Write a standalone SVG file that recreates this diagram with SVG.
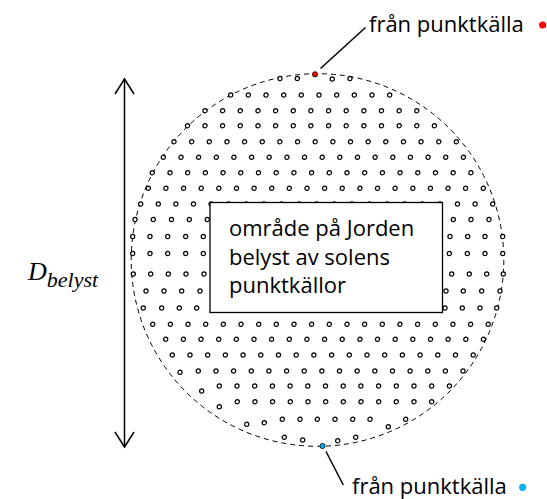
<svg xmlns="http://www.w3.org/2000/svg" width="547" height="499" viewBox="0 0 547 499">
<style>
.d{fill:#fff;stroke:#000;stroke-width:1.2}
.t{font-family:"Open Sans","Noto Sans",sans-serif;font-size:22px;fill:#000}
.ln{stroke:#000;stroke-width:1.5;fill:none}
</style>
<defs>
<marker id="ah" markerUnits="userSpaceOnUse" markerWidth="20" markerHeight="20" refX="0" refY="0" orient="auto-start-reverse" overflow="visible">
<path d="M-15,-9.5 L0,0 L-15,9.5" fill="none" stroke="#000" stroke-width="1.5"/>
</marker>
</defs>
<rect width="547" height="499" fill="#fff"/>
<g id="boundary">
<circle cx="317.5" cy="260" r="186.3" fill="none" stroke="#000" stroke-width="1" stroke-dasharray="5 4"/>
</g>
<g id="points">
<g transform="translate(0,78.5)"><circle class="d" cx="280" cy="0" r="2.1"/><circle class="d" cx="297.3" cy="0" r="2.1"/><circle class="d" cx="332.3" cy="0.5" r="2.1"/><circle class="d" cx="350" cy="0" r="2.1"/></g>
<g transform="translate(0,95)"><circle class="d" cx="230.7" cy="0" r="2.1"/><circle class="d" cx="248.3" cy="0" r="2.1"/><circle class="d" cx="266" cy="0" r="2.1"/><circle class="d" cx="283.7" cy="0" r="2.1"/><circle class="d" cx="301.3" cy="0" r="2.1"/><circle class="d" cx="319" cy="0" r="2.1"/><circle class="d" cx="336.7" cy="0" r="2.1"/><circle class="d" cx="354.3" cy="0" r="2.1"/><circle class="d" cx="372" cy="0" r="2.1"/><circle class="d" cx="389.7" cy="0" r="2.1"/></g>
<g transform="translate(0,110.7)"><circle class="d" cx="205" cy="0" r="2.1"/><circle class="d" cx="222.6" cy="0" r="2.1"/><circle class="d" cx="240.3" cy="0" r="2.1"/><circle class="d" cx="258" cy="0" r="2.1"/><circle class="d" cx="275.6" cy="0" r="2.1"/><circle class="d" cx="293.3" cy="0" r="2.1"/><circle class="d" cx="310.9" cy="0" r="2.1"/><circle class="d" cx="328.6" cy="0" r="2.1"/><circle class="d" cx="346.2" cy="0" r="2.1"/><circle class="d" cx="363.9" cy="0" r="2.1"/><circle class="d" cx="381.5" cy="0" r="2.1"/><circle class="d" cx="399.2" cy="0" r="2.1"/><circle class="d" cx="416.8" cy="0" r="2.1"/></g>
<g transform="translate(0,125.7)"><circle class="d" cx="187.5" cy="0" r="2.1"/><circle class="d" cx="205" cy="0" r="2.1"/><circle class="d" cx="222.6" cy="0" r="2.1"/><circle class="d" cx="240.3" cy="0" r="2.1"/><circle class="d" cx="258" cy="0" r="2.1"/><circle class="d" cx="275.6" cy="0" r="2.1"/><circle class="d" cx="293.3" cy="0" r="2.1"/><circle class="d" cx="310.9" cy="0" r="2.1"/><circle class="d" cx="328.6" cy="0" r="2.1"/><circle class="d" cx="346.2" cy="0" r="2.1"/><circle class="d" cx="363.9" cy="0" r="2.1"/><circle class="d" cx="381.5" cy="0" r="2.1"/><circle class="d" cx="399.2" cy="0" r="2.1"/><circle class="d" cx="416.8" cy="0" r="2.1"/><circle class="d" cx="434.4" cy="0" r="2.1"/></g>
<g transform="translate(0,141.7)"><circle class="d" cx="174" cy="0" r="2.1"/><circle class="d" cx="191.7" cy="0" r="2.1"/><circle class="d" cx="209.3" cy="0" r="2.1"/><circle class="d" cx="227" cy="0" r="2.1"/><circle class="d" cx="244.6" cy="0" r="2.1"/><circle class="d" cx="262.3" cy="0" r="2.1"/><circle class="d" cx="279.9" cy="0" r="2.1"/><circle class="d" cx="297.6" cy="0" r="2.1"/><circle class="d" cx="315.2" cy="0" r="2.1"/><circle class="d" cx="332.9" cy="0" r="2.1"/><circle class="d" cx="350.5" cy="0" r="2.1"/><circle class="d" cx="368.2" cy="0" r="2.1"/><circle class="d" cx="385.8" cy="0" r="2.1"/><circle class="d" cx="403.5" cy="0" r="2.1"/><circle class="d" cx="421.1" cy="0" r="2.1"/><circle class="d" cx="438.8" cy="0" r="2.1"/><circle class="d" cx="456.4" cy="0" r="2.1"/></g>
<g transform="translate(0,157.3)"><circle class="d" cx="163.3" cy="0" r="2.1"/><circle class="d" cx="181" cy="0" r="2.1"/><circle class="d" cx="198.6" cy="0" r="2.1"/><circle class="d" cx="216.3" cy="0" r="2.1"/><circle class="d" cx="233.9" cy="0" r="2.1"/><circle class="d" cx="251.6" cy="0" r="2.1"/><circle class="d" cx="269.2" cy="0" r="2.1"/><circle class="d" cx="286.9" cy="0" r="2.1"/><circle class="d" cx="304.5" cy="0" r="2.1"/><circle class="d" cx="322.2" cy="0" r="2.1"/><circle class="d" cx="339.8" cy="0" r="2.1"/><circle class="d" cx="357.5" cy="0" r="2.1"/><circle class="d" cx="375.1" cy="0" r="2.1"/><circle class="d" cx="392.8" cy="0" r="2.1"/><circle class="d" cx="410.4" cy="0" r="2.1"/><circle class="d" cx="428.1" cy="0" r="2.1"/><circle class="d" cx="445.7" cy="0" r="2.1"/><circle class="d" cx="463.4" cy="0" r="2.1"/></g>
<g transform="translate(0,172.7)"><circle class="d" cx="152.3" cy="0" r="2.1"/><circle class="d" cx="170" cy="0" r="2.1"/><circle class="d" cx="187.7" cy="0" r="2.1"/><circle class="d" cx="205.4" cy="0" r="2.1"/><circle class="d" cx="223.1" cy="0" r="2.1"/><circle class="d" cx="240.8" cy="0" r="2.1"/><circle class="d" cx="258.5" cy="0" r="2.1"/><circle class="d" cx="276.2" cy="0" r="2.1"/><circle class="d" cx="293.9" cy="0" r="2.1"/><circle class="d" cx="311.6" cy="0" r="2.1"/><circle class="d" cx="329.3" cy="0" r="2.1"/><circle class="d" cx="347" cy="0" r="2.1"/><circle class="d" cx="364.7" cy="0" r="2.1"/><circle class="d" cx="382.4" cy="0" r="2.1"/><circle class="d" cx="400.1" cy="0" r="2.1"/><circle class="d" cx="417.8" cy="0" r="2.1"/><circle class="d" cx="435.5" cy="0" r="2.1"/><circle class="d" cx="453.2" cy="0" r="2.1"/><circle class="d" cx="470.9" cy="0" r="2.1"/></g>
<g transform="translate(0,188.3)"><circle class="d" cx="148.3" cy="0" r="2.1"/><circle class="d" cx="165.9" cy="0" r="2.1"/><circle class="d" cx="183.6" cy="0" r="2.1"/><circle class="d" cx="201.2" cy="0" r="2.1"/><circle class="d" cx="218.8" cy="0" r="2.1"/><circle class="d" cx="236.5" cy="0" r="2.1"/><circle class="d" cx="254.1" cy="0" r="2.1"/><circle class="d" cx="271.7" cy="0" r="2.1"/><circle class="d" cx="289.3" cy="0" r="2.1"/><circle class="d" cx="307" cy="0" r="2.1"/><circle class="d" cx="324.6" cy="0" r="2.1"/><circle class="d" cx="342.2" cy="0" r="2.1"/><circle class="d" cx="359.9" cy="0" r="2.1"/><circle class="d" cx="377.5" cy="0" r="2.1"/><circle class="d" cx="395.1" cy="0" r="2.1"/><circle class="d" cx="412.8" cy="0" r="2.1"/><circle class="d" cx="430.4" cy="0" r="2.1"/><circle class="d" cx="448" cy="0" r="2.1"/><circle class="d" cx="465.6" cy="0" r="2.1"/><circle class="d" cx="483.3" cy="0" r="2.1"/></g>
<g transform="translate(0,204)"><circle class="d" cx="140.7" cy="0" r="2.1"/><circle class="d" cx="158.3" cy="0" r="2.1"/><circle class="d" cx="175.9" cy="0" r="2.1"/><circle class="d" cx="193.5" cy="0" r="2.1"/><circle class="d" cx="211.1" cy="0" r="2.1"/><circle class="d" cx="228.7" cy="0" r="2.1"/><circle class="d" cx="246.3" cy="0" r="2.1"/><circle class="d" cx="263.9" cy="0" r="2.1"/><circle class="d" cx="281.5" cy="0" r="2.1"/><circle class="d" cx="299.1" cy="0" r="2.1"/><circle class="d" cx="316.7" cy="0" r="2.1"/><circle class="d" cx="334.3" cy="0" r="2.1"/><circle class="d" cx="351.9" cy="0" r="2.1"/><circle class="d" cx="369.5" cy="0" r="2.1"/><circle class="d" cx="387.1" cy="0" r="2.1"/><circle class="d" cx="404.7" cy="0" r="2.1"/><circle class="d" cx="422.3" cy="0" r="2.1"/><circle class="d" cx="439.9" cy="0" r="2.1"/><circle class="d" cx="457.5" cy="0" r="2.1"/><circle class="d" cx="475.1" cy="0" r="2.1"/><circle class="d" cx="492.7" cy="0" r="2.1"/></g>
<g transform="translate(0,219.5)"><circle class="d" cx="135" cy="0" r="2.1"/><circle class="d" cx="153.3" cy="0" r="2.1"/><circle class="d" cx="171.5" cy="0" r="2.1"/><circle class="d" cx="189.3" cy="0" r="2.1"/><circle class="d" cx="207.3" cy="0" r="2.1"/><circle class="d" cx="453.3" cy="0" r="2.1"/><circle class="d" cx="471" cy="0" r="2.1"/><circle class="d" cx="489" cy="0" r="2.1"/></g>
<g transform="translate(0,236.5)"><circle class="d" cx="132.7" cy="0" r="2.1"/><circle class="d" cx="150" cy="0" r="2.1"/><circle class="d" cx="167.7" cy="0" r="2.1"/><circle class="d" cx="185.7" cy="0" r="2.1"/><circle class="d" cx="203.3" cy="0" r="2.1"/><circle class="d" cx="450" cy="0" r="2.1"/><circle class="d" cx="467.7" cy="0" r="2.1"/><circle class="d" cx="485" cy="0" r="2.1"/><circle class="d" cx="502.7" cy="0" r="2.1"/></g>
<g transform="translate(0,253.5)"><circle class="d" cx="132.7" cy="0" r="2.1"/><circle class="d" cx="150" cy="0" r="2.1"/><circle class="d" cx="167.7" cy="0" r="2.1"/><circle class="d" cx="185.7" cy="0" r="2.1"/><circle class="d" cx="203.3" cy="0" r="2.1"/><circle class="d" cx="449.3" cy="0" r="2.1"/><circle class="d" cx="467.3" cy="0" r="2.1"/><circle class="d" cx="485" cy="0" r="2.1"/><circle class="d" cx="502.7" cy="0" r="2.1"/></g>
<g transform="translate(0,274)"><circle class="d" cx="133.3" cy="0" r="2.1"/><circle class="d" cx="150.7" cy="0" r="2.1"/><circle class="d" cx="168.3" cy="0" r="2.1"/><circle class="d" cx="186" cy="0" r="2.1"/><circle class="d" cx="204" cy="0" r="2.1"/><circle class="d" cx="451.7" cy="0" r="2.1"/><circle class="d" cx="469.3" cy="0" r="2.1"/><circle class="d" cx="486.7" cy="0" r="2.1"/><circle class="d" cx="503.3" cy="0" r="2.1"/></g>
<g transform="translate(0,291)"><circle class="d" cx="146" cy="0" r="2.1"/><circle class="d" cx="164" cy="0" r="2.1"/><circle class="d" cx="181.7" cy="0" r="2.1"/><circle class="d" cx="200" cy="0" r="2.1"/><circle class="d" cx="446" cy="0" r="2.1"/><circle class="d" cx="463.3" cy="0" r="2.1"/><circle class="d" cx="481.7" cy="0" r="2.1"/><circle class="d" cx="500" cy="0" r="2.1"/></g>
<g transform="translate(0,308)"><circle class="d" cx="143.3" cy="0" r="2.1"/><circle class="d" cx="161.7" cy="0" r="2.1"/><circle class="d" cx="179.3" cy="0" r="2.1"/><circle class="d" cx="196.7" cy="0" r="2.1"/><circle class="d" cx="445" cy="0" r="2.1"/><circle class="d" cx="462.3" cy="0" r="2.1"/><circle class="d" cx="480" cy="0" r="2.1"/><circle class="d" cx="496.7" cy="0" r="2.1"/></g>
<g transform="translate(0,324.3)"><circle class="d" cx="152.7" cy="0" r="2.1"/><circle class="d" cx="170.4" cy="0" r="2.1"/><circle class="d" cx="188" cy="0" r="2.1"/><circle class="d" cx="205.7" cy="0" r="2.1"/><circle class="d" cx="223.3" cy="0" r="2.1"/><circle class="d" cx="241" cy="0" r="2.1"/><circle class="d" cx="258.7" cy="0" r="2.1"/><circle class="d" cx="276.3" cy="0" r="2.1"/><circle class="d" cx="294" cy="0" r="2.1"/><circle class="d" cx="311.6" cy="0" r="2.1"/><circle class="d" cx="329.3" cy="0" r="2.1"/><circle class="d" cx="347" cy="0" r="2.1"/><circle class="d" cx="364.6" cy="0" r="2.1"/><circle class="d" cx="382.3" cy="0" r="2.1"/><circle class="d" cx="399.9" cy="0" r="2.1"/><circle class="d" cx="417.6" cy="0" r="2.1"/><circle class="d" cx="435.3" cy="0" r="2.1"/><circle class="d" cx="452.9" cy="0" r="2.1"/><circle class="d" cx="470.6" cy="0" r="2.1"/><circle class="d" cx="488.2" cy="0" r="2.1"/></g>
<g transform="translate(0,339.3)"><circle class="d" cx="165.7" cy="0" r="2.1"/><circle class="d" cx="183.4" cy="0" r="2.1"/><circle class="d" cx="201" cy="0" r="2.1"/><circle class="d" cx="218.7" cy="0" r="2.1"/><circle class="d" cx="236.3" cy="0" r="2.1"/><circle class="d" cx="254" cy="0" r="2.1"/><circle class="d" cx="271.6" cy="0" r="2.1"/><circle class="d" cx="289.3" cy="0" r="2.1"/><circle class="d" cx="306.9" cy="0" r="2.1"/><circle class="d" cx="324.6" cy="0" r="2.1"/><circle class="d" cx="342.2" cy="0" r="2.1"/><circle class="d" cx="359.9" cy="0" r="2.1"/><circle class="d" cx="377.5" cy="0" r="2.1"/><circle class="d" cx="395.2" cy="0" r="2.1"/><circle class="d" cx="412.8" cy="0" r="2.1"/><circle class="d" cx="430.5" cy="0" r="2.1"/><circle class="d" cx="448.1" cy="0" r="2.1"/><circle class="d" cx="465.8" cy="0" r="2.1"/><circle class="d" cx="483.4" cy="0" r="2.1"/></g>
<g transform="translate(0,355)"><circle class="d" cx="172.3" cy="0" r="2.1"/><circle class="d" cx="190" cy="0" r="2.1"/><circle class="d" cx="207.7" cy="0" r="2.1"/><circle class="d" cx="225.4" cy="0" r="2.1"/><circle class="d" cx="243.1" cy="0" r="2.1"/><circle class="d" cx="260.8" cy="0" r="2.1"/><circle class="d" cx="278.5" cy="0" r="2.1"/><circle class="d" cx="296.2" cy="0" r="2.1"/><circle class="d" cx="313.9" cy="0" r="2.1"/><circle class="d" cx="331.6" cy="0" r="2.1"/><circle class="d" cx="349.3" cy="0" r="2.1"/><circle class="d" cx="367" cy="0" r="2.1"/><circle class="d" cx="384.7" cy="0" r="2.1"/><circle class="d" cx="402.4" cy="0" r="2.1"/><circle class="d" cx="420.1" cy="0" r="2.1"/><circle class="d" cx="437.8" cy="0" r="2.1"/><circle class="d" cx="455.5" cy="0" r="2.1"/><circle class="d" cx="473.2" cy="0" r="2.1"/></g>
<g transform="translate(0,371)"><circle class="d" cx="180" cy="1.3" r="2.1"/><circle class="d" cx="198.3" cy="0" r="2.1"/><circle class="d" cx="216" cy="0" r="2.1"/><circle class="d" cx="233.6" cy="0" r="2.1"/><circle class="d" cx="251.3" cy="0" r="2.1"/><circle class="d" cx="268.9" cy="0" r="2.1"/><circle class="d" cx="286.6" cy="0" r="2.1"/><circle class="d" cx="304.2" cy="0" r="2.1"/><circle class="d" cx="321.9" cy="0" r="2.1"/><circle class="d" cx="339.5" cy="0" r="2.1"/><circle class="d" cx="357.2" cy="0" r="2.1"/><circle class="d" cx="374.8" cy="0" r="2.1"/><circle class="d" cx="392.5" cy="0" r="2.1"/><circle class="d" cx="410.1" cy="0" r="2.1"/><circle class="d" cx="427.8" cy="0" r="2.1"/><circle class="d" cx="445.4" cy="0" r="2.1"/><circle class="d" cx="463" cy="0" r="2.1"/></g>
<g transform="translate(0,386)"><circle class="d" cx="201.7" cy="5" r="2.1"/><circle class="d" cx="219.3" cy="0" r="2.1"/><circle class="d" cx="237" cy="0" r="2.1"/><circle class="d" cx="254.7" cy="0" r="2.1"/><circle class="d" cx="272.4" cy="0" r="2.1"/><circle class="d" cx="290.1" cy="0" r="2.1"/><circle class="d" cx="307.8" cy="0" r="2.1"/><circle class="d" cx="325.5" cy="0" r="2.1"/><circle class="d" cx="343.2" cy="0" r="2.1"/><circle class="d" cx="360.9" cy="0" r="2.1"/><circle class="d" cx="378.6" cy="0" r="2.1"/><circle class="d" cx="396.3" cy="0" r="2.1"/><circle class="d" cx="414" cy="0" r="2.1"/><circle class="d" cx="431.7" cy="0" r="2.1"/><circle class="d" cx="449.4" cy="0" r="2.1"/></g>
<g transform="translate(0,401.7)"><circle class="d" cx="219.3" cy="5" r="2.1"/><circle class="d" cx="237.3" cy="0" r="2.1"/><circle class="d" cx="255" cy="0" r="2.1"/><circle class="d" cx="272.6" cy="0" r="2.1"/><circle class="d" cx="290.3" cy="0" r="2.1"/><circle class="d" cx="308" cy="0" r="2.1"/><circle class="d" cx="325.7" cy="0" r="2.1"/><circle class="d" cx="343.3" cy="0" r="2.1"/><circle class="d" cx="361" cy="0" r="2.1"/><circle class="d" cx="378.7" cy="0" r="2.1"/><circle class="d" cx="396.3" cy="0" r="2.1"/><circle class="d" cx="414" cy="0" r="2.1"/><circle class="d" cx="431.7" cy="0" r="2.1"/></g>
<g transform="translate(0,419.3)"><circle class="d" cx="246.7" cy="5" r="2.1"/><circle class="d" cx="264.3" cy="3.4" r="2.1"/><circle class="d" cx="282.3" cy="0" r="2.1"/><circle class="d" cx="300" cy="0" r="2.1"/><circle class="d" cx="317.3" cy="0" r="2.1"/><circle class="d" cx="335" cy="0" r="2.1"/><circle class="d" cx="352.7" cy="0" r="2.1"/><circle class="d" cx="370" cy="0" r="2.1"/><circle class="d" cx="388.3" cy="7.4" r="2.1"/><circle class="d" cx="405.7" cy="0" r="2.1"/></g>
<g transform="translate(0,437.3)"><circle class="d" cx="284.3" cy="0" r="2.1"/><circle class="d" cx="302.7" cy="2.7" r="2.1"/><circle class="d" cx="337.7" cy="3.4" r="2.1"/><circle class="d" cx="355.7" cy="0" r="2.1"/></g>
<circle cx="315" cy="74.3" r="2.6" fill="#ff0000" stroke="#000" stroke-width="0.8"/>
<circle cx="322.5" cy="446" r="2.6" fill="#00b0f0" stroke="#000" stroke-width="0.8"/>
</g>
<g id="region">
<rect x="210" y="202.5" width="232.5" height="110" fill="#fff" stroke="#000" stroke-width="1.3"/>
<text class="t" x="229" y="236">område på Jorden</text>
<text class="t" x="229" y="264.5">belyst av solens</text>
<text class="t" x="229" y="292.5">punktkällor</text>
</g>
<g id="connectors">
<line class="ln" x1="124.5" y1="79" x2="124.5" y2="447" marker-start="url(#ah)" marker-end="url(#ah)"/>
<line class="ln" x1="320.5" y1="68.5" x2="365.5" y2="27.5"/>
<line class="ln" x1="326" y1="451.5" x2="343.3" y2="485"/>
</g>
<g id="label-top">
<text class="t" x="369" y="32">från punktkälla</text>
<circle cx="542.7" cy="25" r="3.6" fill="#ff0000"/>
</g>
<g id="label-bottom">
<text class="t" x="352" y="494">från punktkälla</text>
<circle cx="522.7" cy="487.3" r="3.6" fill="#00b0f0"/>
</g>
<g id="label-d">
<text x="28" y="280" font-family="'Liberation Serif','DejaVu Serif',serif" font-style="italic" font-size="26" fill="#000">D<tspan font-size="22" dy="7">belyst</tspan></text>
</g>
</svg>
